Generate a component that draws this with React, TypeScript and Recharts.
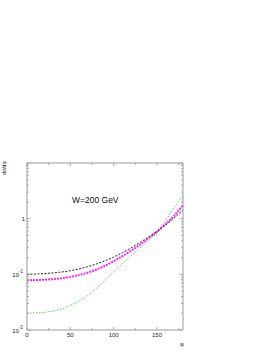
import { LineChart, Line, XAxis, YAxis } from 'recharts';

// angle phi (degrees)
const phi = [0, 10, 20, 30, 40, 50, 60, 70, 80, 90, 100, 110, 120, 130, 140, 150, 160, 170, 180];
// dsigma/dphi, three curves
const blackVals = [0.1, 0.101, 0.103, 0.106, 0.11, 0.116, 0.125, 0.137, 0.153, 0.175, 0.204, 0.244, 0.298, 0.37, 0.465, 0.59, 0.77, 1.04, 1.42];
const magentaVals = [0.078, 0.079, 0.08, 0.082, 0.085, 0.09, 0.097, 0.107, 0.121, 0.142, 0.172, 0.212, 0.265, 0.337, 0.44, 0.585, 0.8, 1.14, 1.73];
const greenVals = [0.02, 0.0202, 0.0208, 0.0219, 0.0238, 0.0275, 0.033, 0.042, 0.056, 0.078, 0.11, 0.155, 0.215, 0.295, 0.4, 0.54, 0.92, 1.6, 2.6];

const xTicks = [0, 25, 50, 75, 100, 125, 150, 175];
const xLabels = [0, 50, 100, 150];
const yTicks = [
  0.01, 0.02, 0.03, 0.04, 0.05, 0.06, 0.07, 0.08, 0.09,
  0.1, 0.2, 0.3, 0.4, 0.5, 0.6, 0.7, 0.8, 0.9,
  1, 2, 3, 4, 5, 6, 7, 8, 9, 10,
];

const data = phi.map((p, i) => ({ phi: p, black: blackVals[i], magenta: magentaVals[i], green: greenVals[i] }));

const frame = '#999';
const font = 'Arial, Liberation Sans, sans-serif';

const isDecade = (v: number) => [0.01, 0.1, 1, 10].some((d) => Math.abs(d - v) < 1e-9);

function XTick(props: any) {
  const { x, y, payload, top } = props;
  const v = payload.value;
  const len = v % 50 === 0 ? 3 : 2;
  return (
    <g>
      <line x1={x} x2={x} y1={y} y2={top ? y + len : y - len} stroke={frame} strokeWidth={0.8} />
      {!top && xLabels.includes(v) && (
        <text x={x} y={y + 7} textAnchor="middle" fontSize={6} fontFamily={font} fill="#222">{v}</text>
      )}
    </g>
  );
}

function YTick(props: any) {
  const { x, y, payload, right } = props;
  const v = payload.value;
  const len = isDecade(v) ? 3.5 : 2;
  let label: any = null;
  if (!right) {
    if (Math.abs(v - 1) < 1e-9) label = <text x={x - 2} y={y + 2} textAnchor="end" fontSize={6} fontFamily={font} fill="#222">1</text>;
    if (Math.abs(v - 0.1) < 1e-9 || Math.abs(v - 0.01) < 1e-9) {
      const e = Math.abs(v - 0.1) < 1e-9 ? '-1' : '-2';
      label = (
        <text x={x - 4} y={y + 2.5} textAnchor="end" fontSize={6} fontFamily={font} fill="#222">
          10<tspan fontSize={4.5} dy={-3.5}>{e}</tspan>
        </text>
      );
    }
  }
  return (
    <g>
      <line x1={x} x2={right ? x - len : x + len} y1={y} y2={y} stroke={frame} strokeWidth={0.8} />
      {label}
    </g>
  );
}

export default function App() {
  return (
    <div style={{ position: 'absolute', left: 0, top: 0, width: 273, height: 353, background: '#fff' }}>
      <LineChart width={273} height={353} data={data} margin={{ top: 162, left: 26, right: 89, bottom: 22 }}>
        <XAxis dataKey="phi" type="number" domain={[0, 180]} ticks={xTicks} interval={0} tickSize={0} tickMargin={0}
          stroke={frame} tickLine={false} tick={<XTick />} height={1} />
        <XAxis xAxisId="top" orientation="top" dataKey="phi" type="number" domain={[0, 180]} ticks={xTicks}
          tickSize={0} tickMargin={0} interval={0} stroke={frame} tickLine={false} tick={<XTick top />} height={1} />
        <YAxis scale="log" domain={[0.01, 10]} allowDataOverflow ticks={yTicks} interval={0} tickSize={0} tickMargin={0}
          stroke={frame} tickLine={false} tick={<YTick />} width={1} />
        <YAxis yAxisId="right" orientation="right" scale="log" domain={[0.01, 10]} allowDataOverflow tickSize={0}
          tickMargin={0} ticks={yTicks} interval={0} stroke={frame} tickLine={false} tick={<YTick right />} width={1} />
        <Line dataKey="green" stroke="#55bb55" strokeWidth={0.9} strokeDasharray="1.5 1.5" dot={false} isAnimationActive={false} />
        <Line dataKey="magenta" stroke="#ff22ff" strokeWidth={2} strokeDasharray="2 1" dot={false} isAnimationActive={false} />
        <Line dataKey="black" stroke="#222" strokeWidth={1} strokeDasharray="2 1.5" dot={false} isAnimationActive={false} />
      </LineChart>
      <svg width={273} height={353} style={{ position: 'absolute', left: 0, top: 0, pointerEvents: 'none' }}>
        <text x={72} y={203} fontSize={8.5} fontFamily={font} fill="#111">W=200 GeV</text>
        <text x={0} y={0} transform="translate(6,168) rotate(-90)" textAnchor="middle" fontSize={5} fontFamily={font} fill="#111">
          dσ/dφ
        </text>
        <text x={182} y={346} textAnchor="middle" fontSize={6} fontFamily={font} fill="#111">φ</text>
      </svg>
    </div>
  );
}
